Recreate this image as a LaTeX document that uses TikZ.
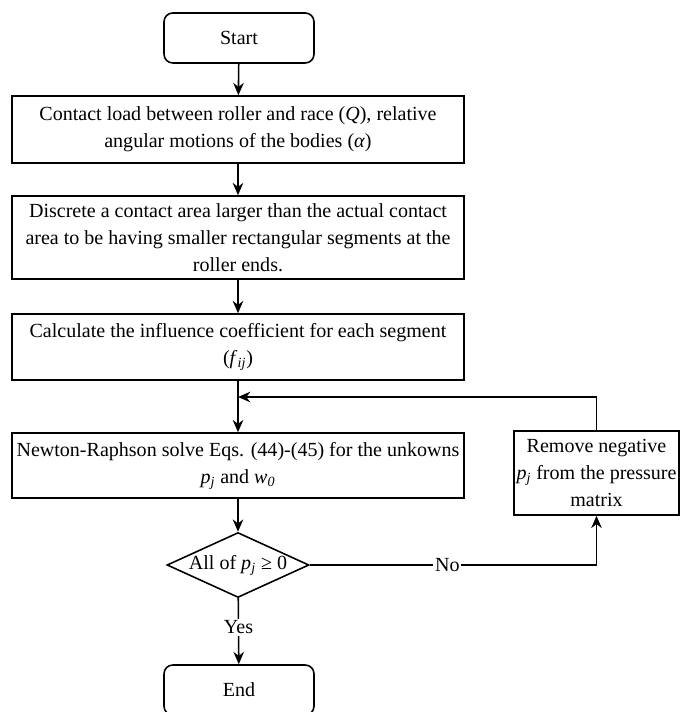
\documentclass[tikz,border=0pt]{standalone}
\usepackage{fontspec}
\setmainfont{Liberation Serif}
\usetikzlibrary{arrows.meta,positioning,calc,shapes.geometric}

\newcommand{\pj}{\textit{p}\textsubscript{\textit{j}}}

\begin{document}
\begin{tikzpicture}[
  stepbox/.style={draw, line width=0.9pt, minimum width=9.04cm, align=center,
                  font=\fontsize{11.4}{15.5}\selectfont, inner sep=1pt},
  term/.style={draw, line width=0.9pt, rounded corners=5pt, minimum width=3cm,
               minimum height=1.0cm, font=\fontsize{11.4}{15.5}\selectfont},
  cond/.style={draw, diamond, aspect=2.18, line width=0.9pt, minimum width=2.84cm,
               minimum height=1.3cm, inner sep=0pt, font=\fontsize{11.4}{15.5}\selectfont},
  lbl/.style={fill=white, inner sep=1pt, font=\fontsize{11.4}{15.5}\selectfont},
  >={Stealth[length=7pt,width=6pt]}, line width=0.9pt
]
  \useasboundingbox (0,0) rectangle (13.6,-14.24);

  \node[term] (start) at (4.78,-0.76) {Start};

  \node[stepbox, minimum height=1.34cm] (load) at (4.76,-2.59)
    {Contact load between roller and race (\textit{Q}), relative\\
     angular motions of the bodies (\textit{α})};

  \node[stepbox, minimum height=1.66cm] (discr) at (4.76,-4.75)
    {Discrete a contact area larger than the actual contact\\
     area to be having smaller rectangular segments at the\\
     roller ends.};

  \node[stepbox, minimum height=1.32cm] (coef) at (4.76,-6.94)
    {Calculate the influence coefficient for each segment\\
     (\textit{f}\textsubscript{\textit{ij}})};

  \node[stepbox, minimum height=1.3cm] (solve) at (4.76,-9.31)
    {Newton-Raphson solve Eqs. (44)-(45) for the unkowns\\
     \pj{} and \textit{w}\textsubscript{\textit{0}}};

  \node[stepbox, minimum width=3.3cm, minimum height=1.68cm] (remove) at (11.93,-9.46)
    {Remove negative\\ \pj{} from the pressure\\ matrix};

  \node[cond] (check) at (4.76,-11.3) {All of \pj{} ≥ 0};

  \node[term] (end) at (4.78,-13.8) {End};

  \coordinate (merge) at (4.76,-7.94);

  % main flow
  \draw[->] (start) -- (load);
  \draw[->] (load) -- (discr);
  \draw[->] (discr) -- (coef);
  \draw[->] (coef) -- (solve);
  \draw[->] (solve) -- (check);
  \draw[->] (check) -- node[lbl, pos=0.44]{Yes} (end);

  % loop back
  \draw[->] (check.east) -- node[lbl, pos=0.48]{No} (check.east -| remove.south) -- (remove.south);
  \draw[->] (remove.north) |- (merge);
\end{tikzpicture}
\end{document}
